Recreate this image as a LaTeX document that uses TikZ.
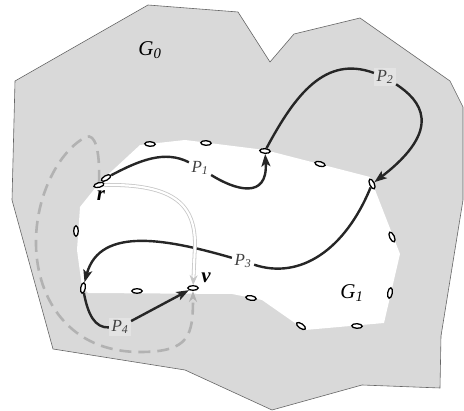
\documentclass[tikz,border=0pt]{standalone}
\usepackage{fontspec}
\setmainfont{Liberation Serif}
\usetikzlibrary{arrows.meta,shapes.geometric}
\begin{document}
\begin{tikzpicture}[x=1pt,y=-1pt,
    vtx/.style={ellipse, draw, fill=white, line width=1.3pt, minimum width=10.5pt, minimum height=4.6pt, inner sep=0pt},
    lbl/.style={inner sep=2.5pt, text=black!75, font=\fontsize{17}{17}\selectfont},
    path/.style={line width=2.4pt, draw=black!85},
    tip/.style={-{Stealth[length=12.5pt,width=9pt,inset=3pt]}}]
    \useasboundingbox (0,0) rectangle (464,411);
    % the two regions
    \draw[fill=black!15, draw=black!60, line width=0.6pt] (148,5) -- (238,12) -- (270,62) -- (294,34) -- (360,18) -- (450,81) -- (463,107) -- (463,200) -- (441,336) -- (440,388) -- (362,385) -- (272,410) -- (185,370) -- (53,349) -- (12,200) -- (15,81) -- cycle;
    \fill[white] (140,145) -- (185,140) -- (265,150) -- (370,177) -- (400,254) -- (384,323) -- (305,330) -- (262,300) -- (232,294) -- (88,293) -- (82,287) -- (77,250) -- (80,207) -- (100,182) -- cycle;
    \node[font=\fontsize{21}{21}\selectfont] (g0) at (150,50) {\textit{G}\textsubscript{\textit{0}}};
    \node[font=\fontsize{21}{21}\selectfont] (g1) at (352,293) {\textit{G}\textsubscript{\textit{1}}};

    % vertices on the boundary of G1
    \node[vtx, rotate=15] (r) at (99,185) {};
    \node[vtx, rotate=30] (ra) at (106,178) {};
    \node[vtx, rotate=-3] (a1) at (150,144) {};
    \node[vtx, rotate=-3] (a2) at (206,143) {};
    \node[vtx, rotate=-5] (t1) at (265,151) {};
    \node[vtx, rotate=-15] (a3) at (320,164) {};
    \node[vtx, rotate=-65] (t2) at (372,184) {};
    \node[vtx, rotate=-65] (a4) at (392,237) {};
    \node[vtx, rotate=80] (a5) at (390,293) {};
    \node[vtx, rotate=-3] (a6) at (357,326) {};
    \node[vtx, rotate=-35] (a7) at (301,326) {};
    \node[vtx, rotate=-10] (a8) at (251,298) {};
    \node[vtx, rotate=0] (v) at (193,288) {};
    \node[vtx, rotate=0] (a9) at (137,291) {};
    \node[vtx, rotate=80] (t3) at (83,288) {};
    \node[vtx, rotate=90] (a10) at (76,231) {};
    \node[font=\fontsize{21}{21}\selectfont\bfseries\itshape] (rl) at (101,196) {r};
    \node[font=\fontsize{21}{21}\selectfont\bfseries\itshape] (vl) at (206,278) {v};

    % path labels
    \node[lbl] (lP1) at (200,168) {\textit{P}\textsubscript{\textit{1}}};
    \node[lbl, fill=black!11] (lP2) at (385,77) {\textit{P}\textsubscript{\textit{2}}};
    \node[lbl] (lP3) at (243,261) {\textit{P}\textsubscript{\textit{3}}};
    \node[lbl, fill=black!11] (lP4) at (120,327) {\textit{P}\textsubscript{\textit{4}}};

    % ear paths
    \draw[path] (ra) .. controls (140,160) and (165,150) .. (lP1);
    \draw[path, tip] (lP1) .. controls (235,190) and (268,200) .. (t1);
    \draw[path] (t1) .. controls (295,95) and (325,55) .. (lP2);
    \draw[path, tip] (lP2) .. controls (420,100) and (445,128) .. (t2);
    \draw[path] (t2) .. controls (345,250) and (300,280) .. (lP3);
    \draw[path, tip] (lP3) .. controls (170,240) and (100,225) .. (t3);
    \draw[path] (t3) .. controls (88,315) and (95,328) .. (lP4);
    \draw[path, tip] (lP4) -- (v);

    % two routes from r to v
    \draw[draw=black!22, double=white, double distance=2.2pt, line width=0.8pt, -{Stealth[length=10pt,width=8pt]}] (r) .. controls (175,184) and (195,205) .. (195,245) -- (v);
    \draw[draw=black!30, line width=2.6pt, dash pattern=on 12pt off 7pt, -{Stealth[length=11pt,width=8pt]}] (r) .. controls (100,150) and (95,133) .. (86,137) .. controls (60,150) and (35,195) .. (36,245) .. controls (37,300) and (70,352) .. (140,352) .. controls (190,352) and (193,335) .. (v);
\end{tikzpicture}
\end{document}
